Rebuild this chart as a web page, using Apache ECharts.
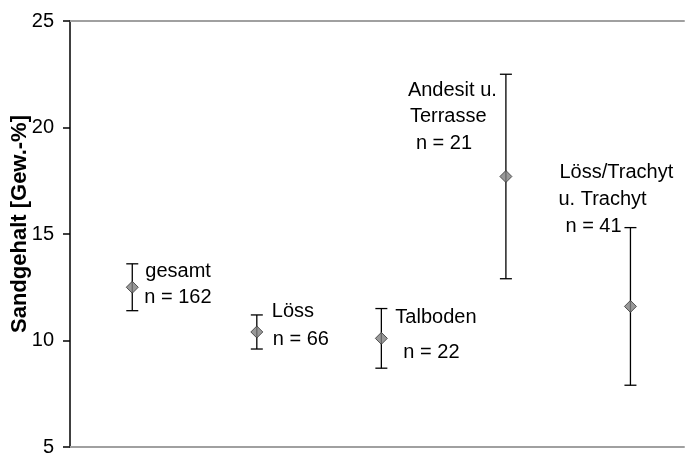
<!DOCTYPE html>
<html><head><meta charset="utf-8">
<script src="https://cdn.jsdelivr.net/npm/echarts@6/dist/echarts.min.js"></script>
<style>html,body{margin:0;padding:0;background:#fff}#c{width:685px;height:455px}</style>
</head><body><div id="c"></div>
<script>
const categories = ['gesamt', 'Löss', 'Talboden', 'Andesit u. Terrasse', 'Löss/Trachyt u. Trachyt'];
const xPositions = [1, 2, 3, 4, 5];
const meanValues = [12.5, 10.4, 10.1, 17.7, 11.6];
const upperValues = [13.6, 11.2, 11.5, 22.5, 15.3];
const lowerValues = [11.4, 9.6, 8.7, 12.9, 7.9];
const labelLines = [
  ['gesamt', 'n = 162'],
  ['Löss', 'n = 66'],
  ['Talboden', 'n = 22'],
  ['Andesit u.', 'Terrasse', 'n = 21'],
  ['Löss/Trachyt', 'u. Trachyt', 'n = 41']
];
const yTicks = [5, 10, 15, 20, 25];
const yTitle = 'Sandgehalt [Gew.-%]';

// label placement offsets (pixels, relative to the marker)
const labelOffsets = [
  [[13, -16], [12, 10]],
  [[15, -20], [16, 8]],
  [[14, -21], [22, 14]],
  [[-98, -86], [-96, -60], [-90, -33]],
  [[-71, -134], [-72, -107], [-65, -80]]
];

const FONT = 'Liberation Sans, Arial, sans-serif';
const chart = echarts.init(document.getElementById('c'), null, {renderer: 'canvas'});

const errData = xPositions.map((x, i) => [x, upperValues[i], lowerValues[i]]);
const meanData = xPositions.map((x, i) => [x, meanValues[i]]);

chart.setOption({
  animation: false,
  backgroundColor: '#fff',
  grid: {left: 70, right: 1, top: 21, bottom: 8, containLabel: false, outerBoundsMode: 'none'},
  xAxis: [{
    type: 'value', min: 0.5, max: 5.43, position: 'bottom',
    axisLine: {show: true, onZero: false, lineStyle: {color: '#a0a0a0', width: 2}},
    axisTick: {show: false}, axisLabel: {show: false}, splitLine: {show: false}
  }, {
    type: 'value', min: 0.5, max: 5.43, position: 'top',
    axisLine: {show: true, onZero: false, lineStyle: {color: '#a0a0a0', width: 2}},
    axisTick: {show: false}, axisLabel: {show: false}, splitLine: {show: false}
  }],
  yAxis: {
    type: 'value', min: yTicks[0], max: yTicks[yTicks.length - 1], interval: 5,
    axisLine: {show: true, onZero: false, lineStyle: {color: '#000', width: 1.5}},
    axisTick: {show: true, inside: false, length: 7, lineStyle: {color: '#000', width: 1.5}},
    axisLabel: {show: true, margin: 16, fontFamily: FONT, fontSize: 20, color: '#000'},
    splitLine: {show: false}
  },
  series: [{
    type: 'custom',
    data: errData,
    renderItem: function (params, api) {
      const x = api.value(0);
      const hi = api.coord([x, api.value(1)]);
      const lo = api.coord([x, api.value(2)]);
      const w = 6;
      const st = {stroke: '#000', lineWidth: 1.3};
      return {type: 'group', children: [
        {type: 'line', shape: {x1: hi[0], y1: hi[1], x2: lo[0], y2: lo[1]}, style: st},
        {type: 'line', shape: {x1: hi[0] - w, y1: hi[1], x2: hi[0] + w, y2: hi[1]}, style: st},
        {type: 'line', shape: {x1: lo[0] - w, y1: lo[1], x2: lo[0] + w, y2: lo[1]}, style: st}
      ]};
    },
    z: 2
  }, {
    type: 'scatter',
    data: meanData,
    symbol: 'diamond',
    symbolSize: 12,
    itemStyle: {color: '#808080', borderColor: '#333', borderWidth: 1},
    z: 3
  }]
});

const graphics = [{
  type: 'text', x: 20, y: 224, rotation: Math.PI / 2, z: 10,
  style: {text: yTitle, fontFamily: FONT, fontSize: 22, fontWeight: 'bold', fill: '#000', textAlign: 'center', textVerticalAlign: 'middle'}
}];
labelLines.forEach((lines, i) => {
  const p = chart.convertToPixel({gridIndex: 0}, [xPositions[i], meanValues[i]]);
  lines.forEach((txt, j) => {
    const off = labelOffsets[i][j];
    graphics.push({
      type: 'text', x: p[0] + off[0], y: p[1] + off[1], z: 10,
      style: {text: txt, fontFamily: FONT, fontSize: 20, fill: '#000', textAlign: 'left', textVerticalAlign: 'middle'}
    });
  });
});
chart.setOption({graphic: graphics});
</script>
</body></html>
